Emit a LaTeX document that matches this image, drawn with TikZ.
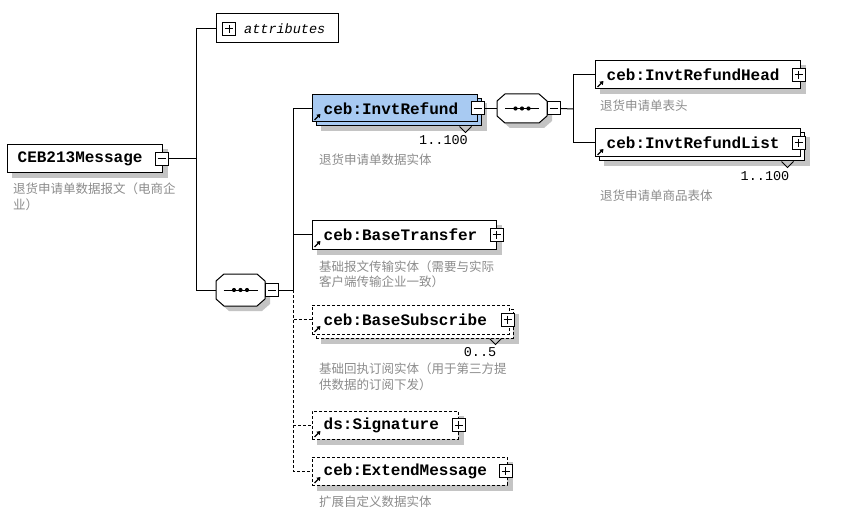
\documentclass[tikz,border=0pt]{standalone}
\usepackage{fontspec}
\newfontfamily\monof{Liberation Mono}
\newfontfamily\cjk{Noto Sans CJK SC}
\usetikzlibrary{arrows.meta}
\pgfdeclarelayer{bgl}
\pgfdeclarelayer{shl}
\pgfsetlayers{bgl,shl,main}
\definecolor{descc}{RGB}{140,140,140}
\definecolor{shadc}{RGB}{196,196,196}
\definecolor{blue1}{RGB}{168,202,242}
\tikzset{
  el/.style={draw, line width=1pt, fill=white, inner sep=0pt, minimum height=28pt},
  opt/.style={dash pattern=on 3pt off 2pt},
  conn/.style={line width=1pt},
  eltext/.style={font=\monof\bfseries\fontsize{16}{18}\selectfont, inner sep=0pt, anchor=west},
  desc/.style={font=\cjk\fontsize{12.5}{15}\selectfont, text=descc, inner sep=0pt, anchor=west},
  card/.style={font=\monof\fontsize{13.5}{15}\selectfont, inner sep=0pt},
  pmbox/.style={draw, line width=1pt, fill=white, minimum size=13pt, inner sep=0pt},
  minusbox/.style={pmbox, path picture={\draw[line width=1pt] ([xshift=2.5pt]path picture bounding box.west) -- ([xshift=-2.5pt]path picture bounding box.east);}},
  plusbox/.style={pmbox, path picture={\draw[line width=1pt] ([xshift=2.5pt]path picture bounding box.west) -- ([xshift=-2.5pt]path picture bounding box.east) ([yshift=-2.5pt]path picture bounding box.north) -- ([yshift=2.5pt]path picture bounding box.south);}},
}
\newcommand\shad[1]{\begin{pgfonlayer}{shl}\fill[shadc] ([shift={(5pt,-5pt)}]#1.north west) rectangle ([shift={(5pt,-5pt)}]#1.south east);\end{pgfonlayer}}
\newcommand\elicon[1]{\draw[line width=1.4pt, -{Triangle[length=3.5pt,width=4.5pt]}] ([shift={(3pt,2.5pt)}]#1.south west) -- ++(6pt,6pt);}
\newcommand\notch[2]{\draw[line width=1pt] ([xshift=-#2]#1.south east) -- ++(6pt,-6pt) -- ++(6pt,6pt);}
\newcommand\seqoct[5]{%
  \begin{scope}[shift={(#2,#3)}]
    \begin{pgfonlayer}{shl}
    \fill[shadc] ({-#4+8+5},{-#5+5}) -- ({#4-8+5},{-#5+5}) -- ({#4+5},{-#5+7+5}) -- ({#4+5},{#5-7+5}) -- ({#4-8+5},{#5+5}) -- ({-#4+8+5},{#5+5}) -- ({-#4+5},{#5-7+5}) -- ({-#4+5},{-#5+7+5}) -- cycle;
    \end{pgfonlayer}
    \draw[line width=1pt, fill=white] ({-#4+8},{-#5}) -- ({#4-8},{-#5}) -- (#4,{-#5+7}) -- (#4,{#5-7}) -- ({#4-8},#5) -- ({-#4+8},#5) -- ({-#4},{#5-7}) -- ({-#4},{-#5+7}) -- cycle;
    \coordinate (#1-w) at ({-#4},0);
    \coordinate (#1-e) at (#4,0);
    \draw[line width=1pt] (-17,0) -- (17,0);
    \fill (-6.5,0) circle (2.1pt) (0,0) circle (2.1pt) (6.5,0) circle (2.1pt);
  \end{scope}}
\begin{document}
\begin{tikzpicture}[x=1pt,y=-1pt]
\useasboundingbox (0,0) rectangle (865,532);
\begin{pgfonlayer}{bgl}
\fill[white] (0,0) rectangle (865,532);
\end{pgfonlayer}

% root
\node[el, minimum width=155pt] (msg) at (84.5,159) {};
\shad{msg}
\node[eltext] (msgt) at ([xshift=11pt]msg.west) {CEB213Message};
\node[minusbox] (msgm) at ([xshift=-1pt]msg.east) {};
\node[desc] (msgd1) at (13,189) {退货申请单数据报文（电商企};
\node[desc] (msgd2) at (13,205) {业）};

% attributes
\node[el, minimum width=122pt, minimum height=29pt] (attr) at (277,28.5) {};
\node[plusbox] (attrp) at (229,29) {};
\node[font=\monof\itshape\fontsize{13.5}{15}\selectfont, anchor=west, inner sep=0pt] (attrt) at (244,29) {attributes};

% sequence 1
\seqoct{seq1}{240.5}{290}{24.5}{16}
\node[minusbox, anchor=west] (seq1m) at (seq1-e) {};

% InvtRefund
\node[el, fill=blue1, minimum width=165pt, minimum height=27pt] (irb) at (398.5,112.5) {};
\shad{irb}
\node[el, fill=blue1, minimum width=165pt, minimum height=27pt] (ir) at (394.5,108.5) {};
\node[eltext] (irt) at ([xshift=12pt]ir.west) {ceb:InvtRefund};
\elicon{ir}
\node[minusbox] (irm) at (ir.east) {};
\notch{irb}{22pt}
\node[card] (irc) at (443.5,140) {1..100};
\node[desc] (ird) at (319,160) {退货申请单数据实体};

% sequence 2
\seqoct{seq2}{522}{108.5}{25}{14.5}
\node[minusbox, anchor=west] (seq2m) at (seq2-e) {};

% InvtRefundHead
\node[el, minimum width=205pt] (head) at (697.5,75) {};
\shad{head}
\node[eltext] (headt) at ([xshift=12pt]head.west) {ceb:InvtRefundHead};
\elicon{head}
\node[plusbox] (headp) at ([xshift=-2pt]head.east) {};
\node[desc] (headd) at (600,106) {退货申请单表头};

% InvtRefundList
\node[el, minimum width=205pt] (listb) at (701.5,147) {};
\shad{listb}
\node[el, minimum width=205pt] (list) at (697.5,143) {};
\node[eltext] (listt) at ([xshift=12pt]list.west) {ceb:InvtRefundList};
\elicon{list}
\node[plusbox] (listp) at ([xshift=-2pt]list.east) {};
\notch{listb}{23pt}
\node[card] (listc) at (765,176) {1..100};
\node[desc] (listd) at (600,196) {退货申请单商品表体};

% BaseTransfer
\node[el, minimum width=184pt, minimum height=29pt] (bt) at (404,234.5) {};
\shad{bt}
\node[eltext] (btt) at ([xshift=12pt]bt.west) {ceb:BaseTransfer};
\elicon{bt}
\node[plusbox] (btp) at (bt.east) {};
\node[desc] (btd1) at (319,267) {基础报文传输实体（需要与实际};
\node[desc] (btd2) at (319,282) {客户端传输企业一致）};

% BaseSubscribe
\node[el, opt, minimum width=197pt, minimum height=29pt] (bsb) at (414.5,323.5) {};
\shad{bsb}
\node[el, opt, minimum width=197pt, minimum height=29pt] (bs) at (410.5,319.5) {};
\node[eltext] (bst) at ([xshift=12pt]bs.west) {ceb:BaseSubscribe};
\elicon{bs}
\node[plusbox] (bsp) at ([xshift=-2pt]bs.east) {};
\notch{bsb}{24pt}
\node[card] (bsc) at (480,352) {0..5};
\node[desc] (bsd1) at (319,369) {基础回执订阅实体（用于第三方提};
\node[desc] (bsd2) at (319,385) {供数据的订阅下发）};

% Signature
\node[el, opt, minimum width=146pt] (sig) at (385,425) {};
\shad{sig}
\node[eltext] (sigt) at ([xshift=12pt]sig.west) {ds:Signature};
\elicon{sig}
\node[plusbox] (sigp) at (sig.east) {};

% ExtendMessage
\node[el, opt, minimum width=195pt] (ext) at (409.5,471) {};
\shad{ext}
\node[eltext] (extt) at ([xshift=12pt]ext.west) {ceb:ExtendMessage};
\elicon{ext}
\node[plusbox] (extp) at ([xshift=-2pt]ext.east) {};
\node[desc] (extd) at (319,502) {扩展自定义数据实体};

% connectors
\coordinate (j1) at (196,159);
\draw[conn] (msgm.east) -- (j1);
\draw[conn] (j1) |- (attr.west);
\draw[conn] (j1) |- (seq1-w);
\coordinate (j2) at (293,290);
\draw[conn] (seq1m.east) -- (j2);
\draw[conn] (j2) |- (ir.west);
\draw[conn] (j2) |- (bt.west);
\draw[conn,opt] (j2) |- (bs.west);
\draw[conn,opt] (j2) |- (sig.west);
\draw[conn,opt] (j2) |- (ext.west);
\draw[conn] (irm.east) -- (seq2-w);
\coordinate (j3) at (573,109);
\draw[conn] (seq2m.east) -- (j3);
\draw[conn] (j3) |- (head.west);
\draw[conn] (j3) |- (list.west);
\end{tikzpicture}
\end{document}
